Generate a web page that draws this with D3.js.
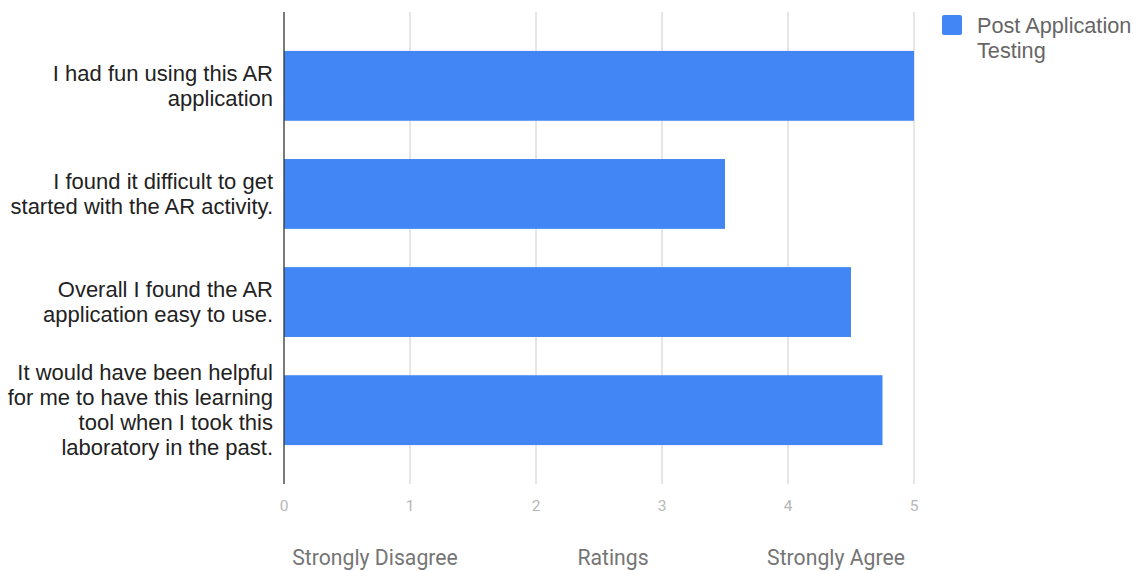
<!DOCTYPE html>
<html><head><meta charset="utf-8">
<script src="https://cdn.jsdelivr.net/npm/d3@7"></script>
<style>body{margin:0;background:#fff}svg{display:block}text{font-family:Roboto,"Noto Sans",sans-serif}</style>
</head><body>
<svg id="c" width="1139" height="571"></svg>
<script>
const categories = [
  ["I had fun using this AR", "application"],
  ["I found it difficult to get", "started with the AR activity."],
  ["Overall I found the AR", "application easy to use."],
  ["It would have been helpful", "for me to have this learning", "tool when I took this", "laboratory in the past."]
];
const values = [5, 3.5, 4.5, 4.75];
const ticks = [0, 1, 2, 3, 4, 5];
const seriesName = ["Post Application", "Testing"];
const axisTitles = ["Strongly Disagree", "Ratings", "Strongly Agree"];

(function () {
const svg = d3.select("#c");
const pL = 284, pR = 914, pT = 12, pB = 484;
const arial = "'Liberation Sans', Arial, sans-serif";
const x = d3.scaleLinear().domain([0, 5]).range([pL, pR]);
const y = d3.scaleBand().domain(d3.range(categories.length)).range([pT, pB]).paddingInner(0.354).paddingOuter(0.36);

// gridlines
svg.append("g").selectAll("line").data(ticks.slice(1)).join("line")
  .attr("x1", d => x(d)).attr("x2", d => x(d)).attr("y1", pT).attr("y2", pB)
  .attr("stroke", "#cccccc").attr("stroke-width", 1);

// bars
svg.append("g").selectAll("rect").data(values).join("rect")
  .attr("x", x(0)).attr("y", (d, i) => y(i))
  .attr("width", d => x(d) - x(0)).attr("height", y.bandwidth())
  .attr("fill", "#4285f4");

// baseline
svg.append("line").attr("x1", x(0)).attr("x2", x(0)).attr("y1", pT).attr("y2", pB)
  .attr("stroke", "#333").attr("stroke-width", 1.3);

// tick labels
svg.append("g").selectAll("text").data(ticks).join("text")
  .attr("x", d => x(d)).attr("y", 511).attr("text-anchor", "middle")
  .attr("font-size", 15.5).attr("fill", "#b7b7b7").text(d => d);

// category labels
const lh = 25;
categories.forEach((lines, i) => {
  const cy = y(i) + y.bandwidth() / 2;
  const t = svg.append("text").attr("text-anchor", "end").attr("font-size", 22)
    .style("font-family", arial).attr("fill", "#222");
  lines.forEach((ln, j) => {
    t.append("tspan").attr("x", 273)
      .attr("y", cy + (j - (lines.length - 1) / 2) * lh + 7.5).text(ln);
  });
});

// axis titles
const titleX = [375, 613, 836];
svg.append("g").selectAll("text").data(axisTitles).join("text")
  .attr("x", (d, i) => titleX[i]).attr("y", 565).attr("text-anchor", "middle")
  .attr("font-size", 21.2).attr("fill", "#757575").text(d => d);

// legend
svg.append("rect").attr("x", 942).attr("y", 15).attr("width", 20).attr("height", 20).attr("rx", 2).attr("fill", "#4285f4");
const lt = svg.append("text").attr("font-size", 21.7).style("font-family", arial).attr("fill", "#666");
seriesName.forEach((s, j) => lt.append("tspan").attr("x", 977).attr("y", 33 + j * 25).text(s));
})();
</script>
</body></html>
